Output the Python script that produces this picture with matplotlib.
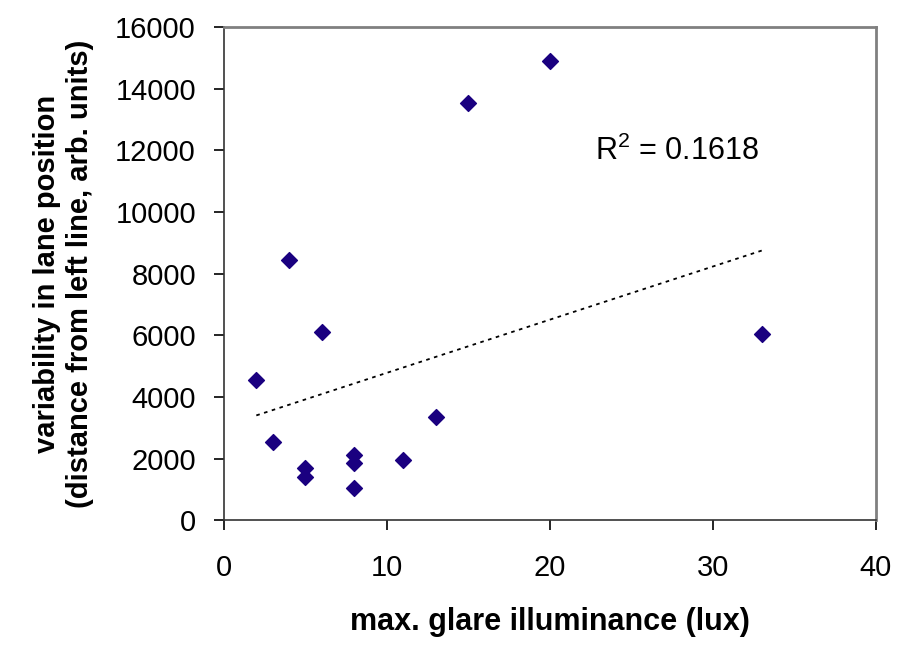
import matplotlib.pyplot as plt
import numpy as np

# glare vs lane position variability
glare_lux = [2, 3, 4, 5, 5, 6, 8, 8, 8, 11, 13, 15, 20, 33]
lane_var = [4550, 2550, 8450, 1700, 1400, 6100, 2100, 1850, 1050, 1950, 3350, 13550, 14900, 6050]
# trendline ends
trend_x = [2, 33]
trend_y = [3400, 8750]
r2_text = "R$^2$ = 0.1618"

plt.rcParams['font.family'] = ['Liberation Sans', 'DejaVu Sans']
plt.rcParams['mathtext.fontset'] = 'custom'
plt.rcParams['mathtext.rm'] = 'Liberation Sans'

fig = plt.figure(figsize=(9.02, 6.47), dpi=100)
ax = fig.add_axes([0.248, 0.196, 0.723, 0.762])

ax.scatter(glare_lux, lane_var, marker='D', s=65, c='#1a0080', zorder=3)
ax.plot(trend_x, trend_y, color='black', lw=1.3, ls=(0, (2, 2.5)))

ax.text(0.57, 0.73, r2_text, transform=ax.transAxes, fontsize=22)

ax.set_xlim(0, 40)
ax.set_ylim(0, 16000)
ax.set_xticks([0, 10, 20, 30, 40])
ax.set_yticks(np.arange(0, 16001, 2000))
ax.tick_params(direction='out', length=7, width=1.2, labelsize=21)
ax.tick_params(axis='x', pad=17)
ax.tick_params(axis='y', pad=13)

for side in ['top', 'right']:
    ax.spines[side].set_color('#808080')
    ax.spines[side].set_linewidth(2)
for side in ['left', 'bottom']:
    ax.spines[side].set_color('#333333')
    ax.spines[side].set_linewidth(1.2)

ax.set_xlabel("max. glare illuminance (lux)", fontsize=22, fontweight='bold', labelpad=18)
ax.set_ylabel("variability in lane position\n(distance from left line, arb. units)",
              fontsize=21, fontweight='bold', labelpad=15, linespacing=1.25)

fig.savefig("out.png", dpi=100)
